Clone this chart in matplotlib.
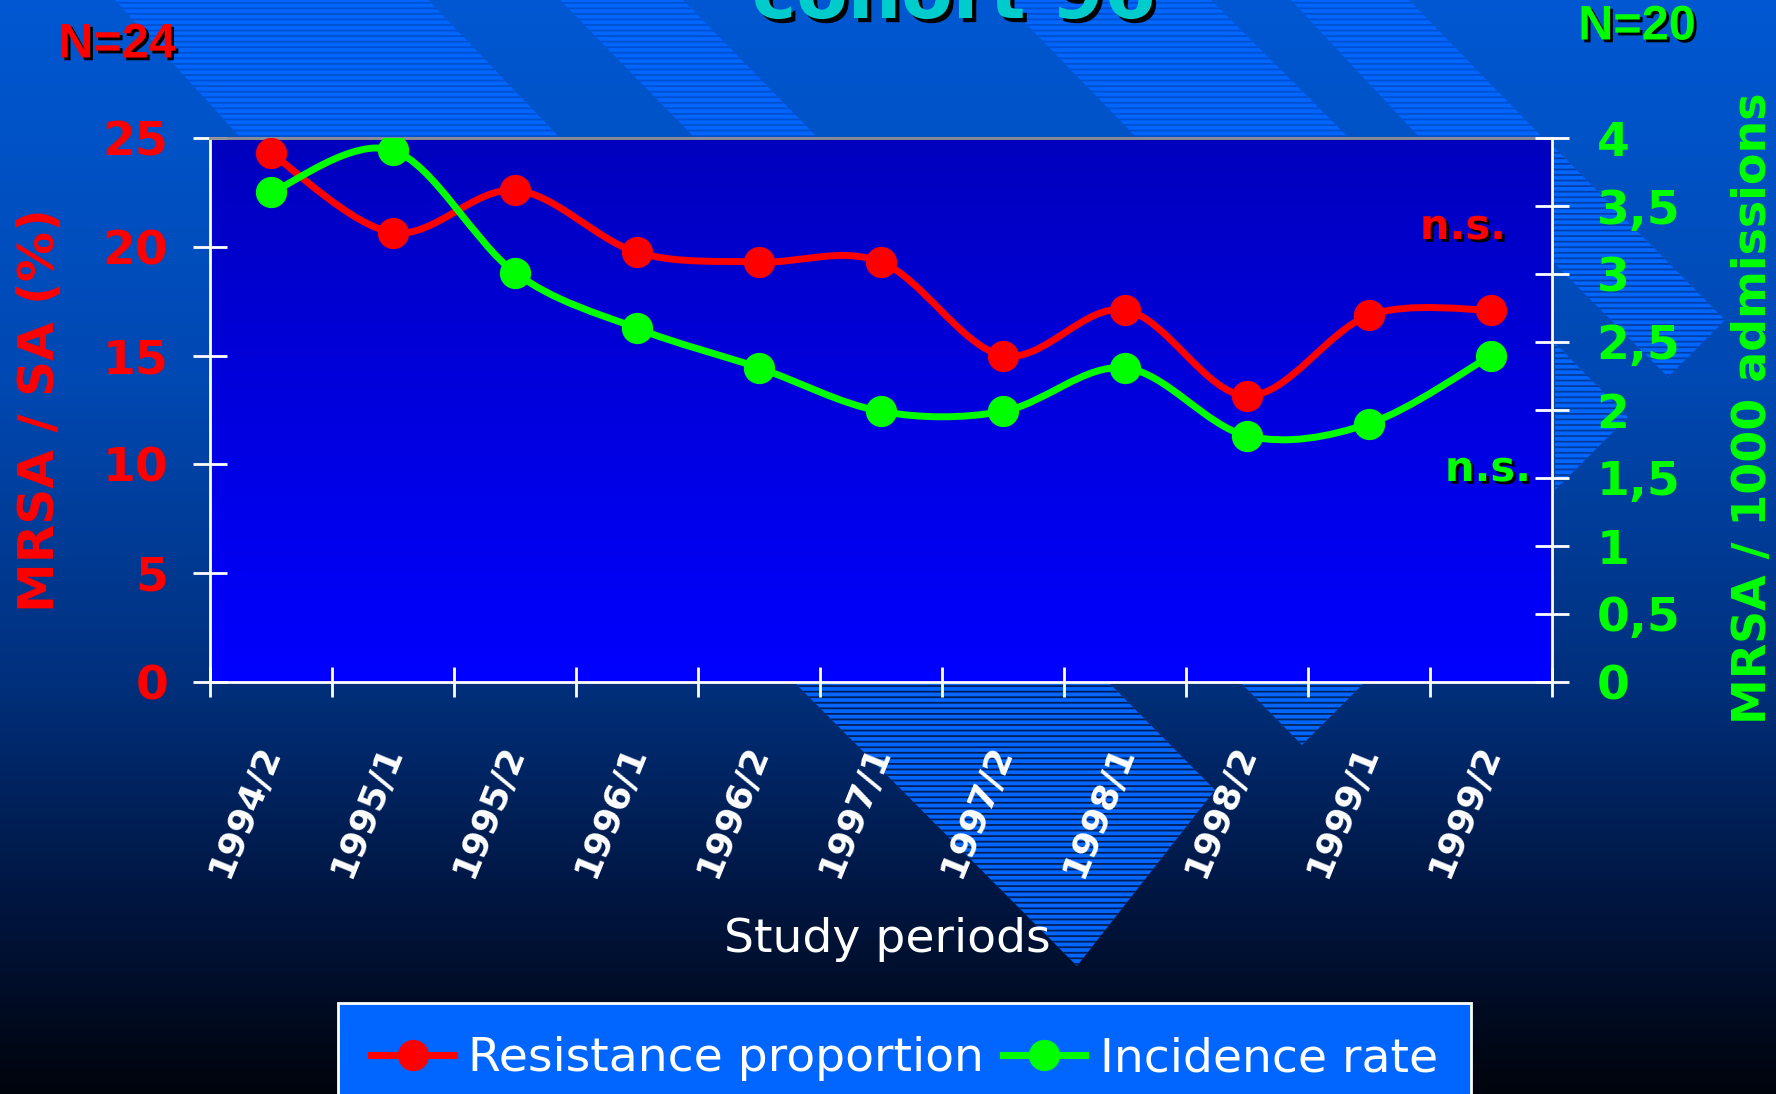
import numpy as np
import matplotlib
matplotlib.use('Agg')
import matplotlib.pyplot as plt
import matplotlib.patheffects as pe
from matplotlib.path import Path
from matplotlib.patches import PathPatch, Polygon
from matplotlib.lines import Line2D

# data
periods = ['1994/2', '1995/1', '1995/2', '1996/1', '1996/2', '1997/1',
           '1997/2', '1998/1', '1998/2', '1999/1', '1999/2']
resistance = [24.3, 20.65, 22.6, 19.75, 19.3, 19.3, 15.0, 17.1, 13.15, 16.85, 17.1]
incidence = [3.6, 3.91, 3.01, 2.6, 2.31, 1.99, 1.99, 2.31, 1.81, 1.9, 2.4]
left_ticks = [0, 5, 10, 15, 20, 25]
right_ticks = [0, 0.5, 1, 1.5, 2, 2.5, 3, 3.5, 4]
right_labels = ['0', '0,5', '1', '1,5', '2', '2,5', '3', '3,5', '4']

RED = '#ff0000'
GREEN = '#00ff00'
W, H = 1776, 1094
plt.rcParams['hatch.linewidth'] = 1.3


def smooth_path(xs, ys):
    """Catmull-Rom style bezier through the points (like Excel smoothed lines)."""
    n = len(xs)
    verts = [(xs[0], ys[0])]
    codes = [Path.MOVETO]
    for i in range(n - 1):
        x0, y0 = (xs[i - 1], ys[i - 1]) if i > 0 else (xs[i], ys[i])
        x1, y1 = xs[i], ys[i]
        x2, y2 = xs[i + 1], ys[i + 1]
        x3, y3 = (xs[i + 2], ys[i + 2]) if i + 2 < n else (x2, y2)
        verts += [(x1 + (x2 - x0) / 6, y1 + (y2 - y0) / 6),
                  (x2 - (x3 - x1) / 6, y2 - (y3 - y1) / 6),
                  (x2, y2)]
        codes += [Path.CURVE4] * 3
    return Path(verts, codes)


def shadow(off=3):
    return [pe.withSimplePatchShadow(offset=(off, -off), shadow_rgbFace='black', alpha=1)]


fig = plt.figure(figsize=(W / 100, H / 100), dpi=100)

# background: vertical gradient + decorative hatched chevrons
bg = fig.add_axes([0, 0, 1, 1], zorder=-10)
stops = [0, 0.35, 0.62, 0.82, 1.0]
cols = np.array([[0, 88, 210], [0, 72, 178], [0, 48, 125], [0, 22, 65], [0, 4, 12]]) / 255
yy = np.linspace(0, 1, 400)
grad = np.stack([np.interp(yy, stops, cols[:, k]) for k in range(3)], axis=1)[:, None, :]
bg.imshow(grad, extent=[0, W, H, 0], aspect='auto')

face = np.stack([np.zeros(200), np.zeros(200), np.linspace(190, 255, 200) / 255], axis=1)[:, None, :]
bg.imshow(face, extent=[210, 1552, 682, 138], aspect='auto')

stripes = [
    ([(115, 0), (428, 0), (560, 138), (241, 138)], '#0050d0'),
    ([(560, 0), (683, 0), (818, 138), (695, 138)], '#0050d0'),
    ([(1003, 0), (1211, 0), (1349, 138), (1137, 138)], '#0050d0'),
    ([(1291, 0), (1409, 0), (1543, 138), (1420, 138)], '#0050d0'),
    ([(1552, 145), (1725, 320), (1668, 377), (1552, 261)], '#0040a8'),
    ([(1555, 343), (1628, 417), (1555, 490)], '#003c9c'),
    ([(796, 684), (1110, 684), (1215, 790), (1077, 966)], '#001e58'),
    ([(1242, 684), (1363, 684), (1302, 745)], '#002560'),
]
for pts, hc in stripes:
    bg.add_patch(Polygon(pts, closed=True, facecolor='#0066ff', edgecolor=hc,
                         hatch='---', lw=0))
bg.set_xlim(0, W)
bg.set_ylim(H, 0)
bg.axis('off')

# main axes
ax = fig.add_axes([210 / W, 1 - 682 / H, (1552 - 210) / W, (682 - 138) / H])
ax.patch.set_visible(False)
x = np.arange(len(periods))

ax.add_patch(PathPatch(smooth_path(x, resistance), fill=False, edgecolor=RED, lw=5,
                       capstyle='round', joinstyle='round', zorder=3))
ax.plot(x, resistance, 'o', color=RED, ms=21.5, zorder=4)

ax.set_xlim(-0.5, len(periods) - 0.5)
ax.set_ylim(0, 25)
ax.set_xticks(np.arange(-0.5, len(periods)), labels=[])
ax.set_xticks(x, labels=periods, minor=True)
ax.tick_params(axis='x', which='major', direction='inout', length=22, width=2, color='white')
ax.tick_params(axis='x', which='minor', length=0, pad=46, labelsize=26, labelcolor='white')
for lab in ax.get_xticklabels(minor=True):
    lab.set_rotation(68)
    lab.set_ha('right')
    lab.set_va('center')
    lab.set_rotation_mode('anchor')
    lab.set_fontweight('bold')

ax.set_yticks(left_ticks)
ax.tick_params(axis='y', direction='inout', length=24, width=2, color='white',
               labelcolor=RED, labelsize=34, pad=18)
for lab in ax.get_yticklabels():
    lab.set_fontweight('bold')

for s in ['left', 'bottom']:
    ax.spines[s].set_color('white')
    ax.spines[s].set_linewidth(2)
ax.spines['top'].set_color('#909090')
ax.spines['top'].set_linewidth(2)
ax.spines['right'].set_visible(False)

# secondary axis
ax2 = ax.twinx()
ax2.add_patch(PathPatch(smooth_path(x, incidence), fill=False, edgecolor=GREEN, lw=5,
                        capstyle='round', joinstyle='round', zorder=3))
ax2.plot(x, incidence, 'o', color=GREEN, ms=21.5, zorder=4)
ax2.set_ylim(0, 4)
ax2.set_yticks(right_ticks, labels=right_labels)
ax2.tick_params(axis='y', direction='inout', length=24, width=2, color='white',
                labelcolor=GREEN, labelsize=34, pad=20)
for lab in ax2.get_yticklabels():
    lab.set_fontweight('bold')
for s in ['left', 'top', 'bottom']:
    ax2.spines[s].set_visible(False)
ax2.spines['right'].set_color('white')
ax2.spines['right'].set_linewidth(2)

# texts
narrow = ['Liberation Sans Narrow', 'Liberation Sans', 'DejaVu Sans']
fig.text(954 / W, 1 - 18 / H, 'cohort 96', fontsize=54, fontweight='bold', color='#00cccc',
         ha='center', va='baseline', path_effects=shadow(3))
fig.text(117 / W, 1 - 45 / H, 'N=24', fontsize=35, fontweight='bold', color=RED,
         family=narrow, ha='center', va='center', path_effects=shadow(2))
fig.text(1637 / W, 1 - 27 / H, 'N=20', fontsize=35, fontweight='bold', color=GREEN,
         family=narrow, ha='center', va='center', path_effects=shadow(2))
fig.text(40 / W, 1 - 410 / H, 'MRSA / SA (%)', rotation=90, fontsize=36, fontweight='bold',
         color=RED, ha='center', va='center')
fig.text(1753 / W, 1 - 408 / H, 'MRSA / 1000 admissions', rotation=90, fontsize=33,
         fontweight='bold', color=GREEN, ha='center', va='center')
fig.text(1506 / W, 1 - 227 / H, 'n.s.', fontsize=30, fontweight='bold', color=RED,
         ha='right', va='center', path_effects=shadow(2))
fig.text(1531 / W, 1 - 469 / H, 'n.s.', fontsize=30, fontweight='bold', color=GREEN,
         ha='right', va='center', path_effects=shadow(2))
fig.text(887 / W, 1 - 940 / H, 'Study periods', fontsize=34, color='white',
         ha='center', va='center')

handles = [Line2D([], [], color=RED, lw=5, marker='o', ms=21.5),
           Line2D([], [], color=GREEN, lw=5, marker='o', ms=21.5)]
leg = fig.legend(handles, ['Resistance proportion', 'Incidence rate'], loc='upper center',
                 bbox_to_anchor=(904.5 / W, 1 - 1003 / H), borderaxespad=0, ncol=2,
                 fontsize=34, frameon=True, fancybox=False, facecolor='#0066ff',
                 edgecolor='white', framealpha=1, handlelength=1.75, handletextpad=0.3,
                 columnspacing=0.4, borderpad=0.7)
leg.get_frame().set_linewidth(2)
for t in leg.get_texts():
    t.set_color('white')

fig.savefig('out.png', dpi=100)
